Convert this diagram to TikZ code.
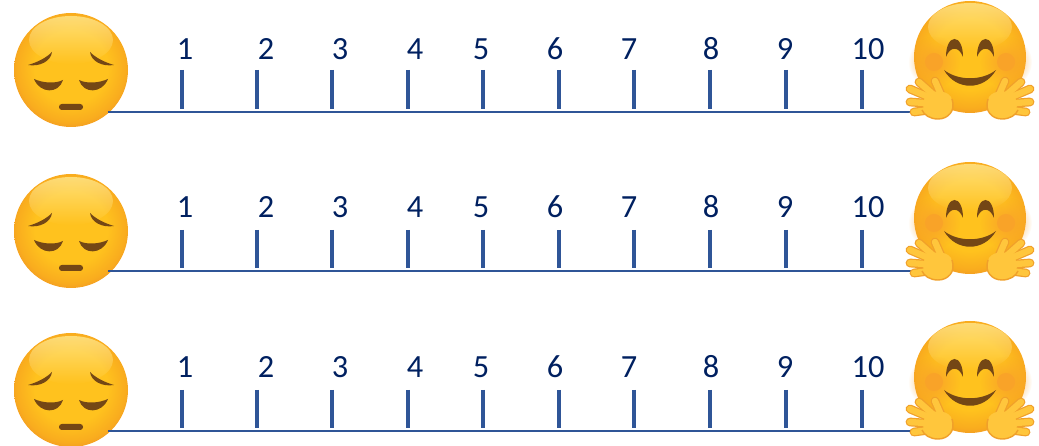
\documentclass[tikz,border=0pt]{standalone}
\usepackage{fontspec}
\setmainfont{Carlito}
\usepackage{xcolor}
\usetikzlibrary{fadings}

\definecolor{linecol}{HTML}{2F5597}
\definecolor{numcol}{HTML}{002060}
\definecolor{browncol}{HTML}{744715}
\definecolor{handedge}{HTML}{F0A02A}
\definecolor{handfill}{HTML}{FFC63C}
\definecolor{ballmid}{HTML}{FFC21E}
\definecolor{ballrim}{HTML}{F9AC1E}
\definecolor{ballout}{HTML}{F29A24}
\definecolor{glowcol}{HTML}{FFE78C}
\definecolor{cheekcol}{HTML}{F9A328}

\pgfdeclareradialshading{faceball}{\pgfpoint{0bp}{2bp}}{
  color(0bp)=(ballmid);
  color(16bp)=(ballmid);
  color(24bp)=(ballrim);
  color(27bp)=(ballout);
  color(50bp)=(ballout)}
\tikzfading[name=topglow, top color=transparent!20, bottom color=transparent!100]
\tikzfading[name=softspot, inner color=transparent!0, outer color=transparent!100]

\tikzset{
  axisline/.style={linecol, line width=0.75pt},
  tickline/.style={linecol, line width=1pt},
  numlabel/.style={text=numcol, font=\fontsize{9.2}{11}\selectfont, inner sep=0pt},
  feature/.style={fill=browncol, draw=none},
  sadface/.pic={
    \shade[shading=faceball] (0,0) circle (57);
    \fill[glowcol, path fading=topglow] (0,-30) ellipse (42 and 24);
    \fill[feature] (-43,-5) .. controls (-33,-8) and (-25,-12) .. (-19,-18) .. controls (-20,-9) and (-31,-3) .. (-43,-5);
    \fill[feature] (43,-5) .. controls (33,-8) and (25,-12) .. (19,-18) .. controls (20,-9) and (31,-3) .. (43,-5);
    \fill[feature] (-37,9) .. controls (-28,13) and (-16,14) .. (-8,10) .. controls (-12,24) and (-31,24) .. (-37,9);
    \fill[feature] (37,9) .. controls (28,13) and (16,14) .. (8,10) .. controls (12,24) and (31,24) .. (37,9);
    \fill[feature, rounded corners=0.8pt] (-12,34) rectangle (12,40);
  },
  openhand/.pic={
    \foreach \w/\c in {2.5pt/handedge, 1.8pt/handfill}{
      \draw[\c, line width=\w, line cap=round] (0,-2) -- (-28,-14);
      \draw[\c, line width=\w, line cap=round] (0,1) -- (-28,-1);
      \draw[\c, line width=\w, line cap=round] (0,6) -- (-24,9);
      \draw[\c, line width=\w, line cap=round] (-2,-6) -- (-19,-21);
      \draw[\c, line width=\w, line cap=round] (4,-6) -- (-3,-22);
    }
    \fill[handfill] (-13,-6) .. controls (-8,-13) and (8,-14) .. (13,-6) .. controls (18,8) and (10,16) .. (0,16) .. controls (-12,16) and (-18,8) .. (-13,-6);
    \draw[handedge, line width=0.4pt] (14,-4) .. controls (18,8) and (10,16) .. (0,16) .. controls (-8,16) and (-14,12) .. (-16,7);
  },
  hugface/.pic={
    \shade[shading=faceball] (0,0) circle (56);
    \fill[glowcol, path fading=topglow] (0,-30) ellipse (42 and 24);
    \fill[cheekcol] (-36,5) circle (9);
    \fill[cheekcol] (36,5) circle (9);
    \fill[cheekcol, path fading=softspot] (-36,5) circle (26);
    \fill[cheekcol, path fading=softspot] (36,5) circle (26);
    \fill[feature] (-24,0) .. controls (-24,-24) and (-7,-24) .. (-7,0) .. controls (-11,-11) and (-20,-11) .. (-24,0);
    \fill[feature] (7,0) .. controls (7,-24) and (24,-24) .. (24,0) .. controls (20,-11) and (11,-11) .. (7,0);
    \fill[feature] (-26,13) .. controls (-12,24) and (12,24) .. (26,13) .. controls (14,34) and (-14,34) .. (-26,13);
    \pic at (-32,46) {openhand};
    \pic[xscale=-1] at (32,46) {openhand};
  },
}

\begin{document}
\begin{tikzpicture}[x=0.01cm,y=-0.01cm]
\useasboundingbox (0,0) rectangle (1039,446);
\foreach \r/\basey/\sady/\hugy/\laby/\tipy in {1/112/70/57/49/70, 2/271/231/218/207/230, 3/431/390/377/367/390}{
  \pic (sad\r) at (71,\sady) {sadface};
  \coordinate (start\r) at (108,\basey);
  \coordinate (end\r) at (912,\basey);
  \draw[axisline] (start\r) -- (end\r);
  \pic (hug\r) at (970,\hugy) {hugface};
  \foreach \n/\tx/\lx in {1/182/185, 2/257/266, 3/332/340, 4/408/415, 5/483/481, 6/559/555, 7/634/629, 8/710/711, 9/786/785, 10/862/868}{
    \coordinate (tip\r\n) at (\tx,\tipy);
    \coordinate (foot\r\n) at (\tx,\basey-3);
    \draw[tickline] (tip\r\n) -- (foot\r\n);
    \node[numlabel] (num\r\n) at (\lx,\laby) {\n};
  }
}
\end{tikzpicture}
\end{document}
